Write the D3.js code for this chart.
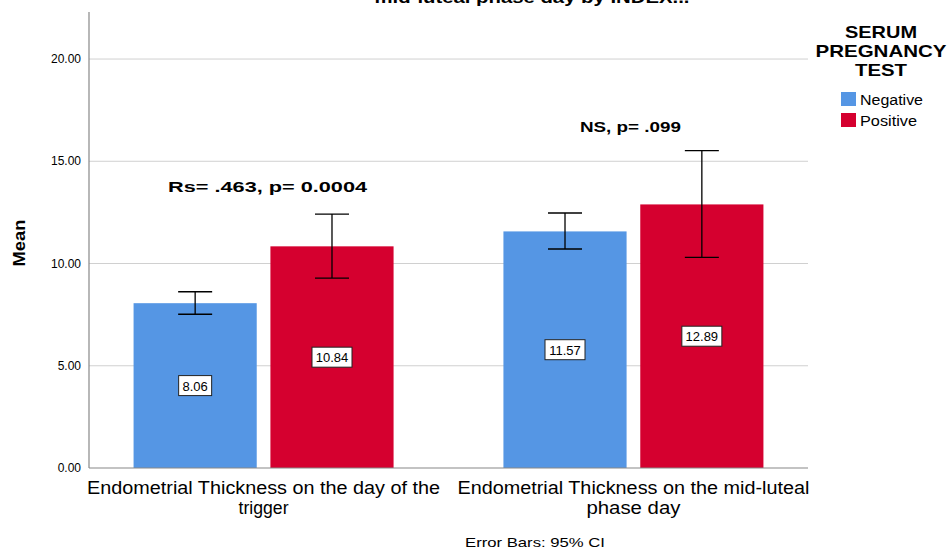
<!DOCTYPE html>
<html>
<head>
<meta charset="utf-8">
<script src="https://cdn.jsdelivr.net/npm/d3@7"></script>
<style>
    body { margin: 0; background: #fff; }
    text { font-family: "Liberation Sans", Arial, sans-serif; fill: #000; }
</style>
</head>
<body>
<script>
    var w = 949, h = 549;

    var categories = ["Endometrial Thickness on the day of the trigger", "Endometrial Thickness on the mid-luteal phase day"];
    var catLines = [["Endometrial Thickness on the day of the", "trigger"], ["Endometrial Thickness on the mid-luteal", "phase day"]];
    var groups = ["Negative", "Positive"];
    var negMean = [8.06, 11.57];
    var posMean = [10.84, 12.89];
    var negLow = [7.52, 10.71];
    var negHigh = [8.62, 12.47];
    var posLow = [9.29, 10.30];
    var posHigh = [12.42, 15.52];
    var notes = ["Rs= .463, p= 0.0004", "NS, p= .099"];
    var yTicks = [0, 5, 10, 15, 20];

    var colors = { Negative: "#5596e4", Positive: "#d5002f" };

    var plotL = 89, plotR = 808, plotT = 12, plotB = 468;

    var svg = d3.select("body").append("svg")
        .attr("width", w)
        .attr("height", h);

    var y = d3.scaleLinear().domain([0, 22.3]).range([plotB, plotT]);
    var x = d3.scalePoint().domain(categories).range([plotL, plotR]).padding(0.472);
    var xs = d3.scaleBand().domain(groups).range([-130, 130]).paddingInner(0.1);

    // stretch text to the width it has in the original
    function fit(sel, len) {
        sel.attr("textLength", len).attr("lengthAdjust", "spacingAndGlyphs");
    }

    // grid lines
    svg.append("g").selectAll("line")
        .data(yTicks.filter(function(d) { return d > 0; }))
        .enter().append("line")
        .attr("x1", plotL).attr("x2", plotR)
        .attr("y1", function(d) { return y(d); })
        .attr("y2", function(d) { return y(d); })
        .attr("stroke", "#d0d0d0")
        .attr("stroke-width", 1);

    // tick labels
    svg.append("g").selectAll("text")
        .data(yTicks)
        .enter().append("text")
        .attr("x", 81)
        .attr("y", function(d) { return y(d) + 4; })
        .attr("text-anchor", "end")
        .attr("font-size", "12px")
        .attr("fill", "#222")
        .text(function(d) { return d3.format(".2f")(d); });

    var rows = [];
    categories.forEach(function(c, i) {
        rows.push({ cat: c, grp: "Negative", v: negMean[i], lo: negLow[i], hi: negHigh[i] });
        rows.push({ cat: c, grp: "Positive", v: posMean[i], lo: posLow[i], hi: posHigh[i] });
    });

    function bx(d) { return x(d.cat) + xs(d.grp); }

    svg.append("g").selectAll("rect")
        .data(rows)
        .enter().append("rect")
        .attr("x", bx)
        .attr("y", function(d) { return y(d.v); })
        .attr("width", xs.bandwidth())
        .attr("height", function(d) { return y(0) - y(d.v); })
        .attr("fill", function(d) { return colors[d.grp]; });

    // error bars
    var eb = svg.append("g").attr("stroke", "#000").attr("stroke-width", 1.3);
    rows.forEach(function(d) {
        var cx = bx(d) + xs.bandwidth() / 2;
        eb.append("line").attr("x1", cx).attr("x2", cx).attr("y1", y(d.lo)).attr("y2", y(d.hi));
        eb.append("line").attr("x1", cx - 17).attr("x2", cx + 17).attr("y1", y(d.lo)).attr("y2", y(d.lo));
        eb.append("line").attr("x1", cx - 17).attr("x2", cx + 17).attr("y1", y(d.hi)).attr("y2", y(d.hi));
    });

    // value labels
    rows.forEach(function(d) {
        var cx = bx(d) + xs.bandwidth() / 2;
        var cy = (y(d.v) + y(0)) / 2;
        var txt = d3.format(".2f")(d.v);
        var bw = txt.length * 7 + 5;
        svg.append("rect")
            .attr("x", cx - bw / 2).attr("y", cy - 10)
            .attr("width", bw).attr("height", 20)
            .attr("fill", "#fff").attr("stroke", "#222").attr("stroke-width", 1);
        svg.append("text")
            .attr("x", cx).attr("y", cy + 5)
            .attr("text-anchor", "middle")
            .attr("font-size", "13px")
            .text(txt);
    });

    // axes lines
    svg.append("line").attr("x1", plotL).attr("x2", plotL).attr("y1", plotT).attr("y2", plotB)
        .attr("stroke", "#888").attr("stroke-width", 1.2);
    svg.append("line").attr("x1", plotL).attr("x2", plotR).attr("y1", plotB).attr("y2", plotB)
        .attr("stroke", "#888").attr("stroke-width", 1.2);

    // annotations
    var noteW = [199, 101];
    svg.append("g").selectAll("text")
        .data(notes)
        .enter().append("text")
        .attr("x", function(d, i) { return x(categories[i]) + (i === 0 ? 4 : -3); })
        .attr("y", function(d, i) { return i === 0 ? 192 : 132; })
        .attr("text-anchor", "middle")
        .attr("font-size", "15px")
        .attr("font-weight", "bold")
        .text(function(d) { return d; })
        .each(function(d, i) { fit(d3.select(this), noteW[i]); });

    // category labels
    var catW = [[353, 50], [352, 94]];
    catLines.forEach(function(lines, i) {
        lines.forEach(function(l, j) {
            svg.append("text")
                .attr("x", x(categories[i]))
                .attr("y", 494 + j * 20)
                .attr("text-anchor", "middle")
                .attr("font-size", "17.5px")
                .attr("fill", "#222")
                .text(l)
                .call(fit, catW[i][j]);
        });
    });

    // y label
    svg.append("text")
        .attr("transform", "translate(25,243) rotate(-90)")
        .attr("text-anchor", "middle")
        .attr("font-size", "17px")
        .attr("font-weight", "bold")
        .text("Mean")
        .call(fit, 47);

    // title (cut off at top)
    svg.append("text")
        .attr("x", 532).attr("y", 3)
        .attr("text-anchor", "middle")
        .attr("font-size", "16px")
        .attr("font-weight", "bold")
        .text("mid-luteal phase day by INDEX...")
        .call(fit, 315);

    svg.append("text")
        .attr("x", 535).attr("y", 547)
        .attr("text-anchor", "middle")
        .attr("font-size", "13px")
        .attr("fill", "#222")
        .text("Error Bars: 95% CI")
        .call(fit, 140);

    // legend
    var legW = [72, 131, 52];
    ["SERUM", "PREGNANCY", "TEST"].forEach(function(t, i) {
        svg.append("text")
            .attr("x", 881).attr("y", 38 + i * 19)
            .attr("text-anchor", "middle")
            .attr("font-size", "17px")
            .attr("font-weight", "bold")
            .text(t)
            .call(fit, legW[i]);
    });
    var itemW = [63, 57];
    groups.forEach(function(g, i) {
        svg.append("rect")
            .attr("x", 841).attr("y", 92 + i * 21)
            .attr("width", 15).attr("height", 14)
            .attr("fill", colors[g]);
        svg.append("text")
            .attr("x", 860).attr("y", 105 + i * 21)
            .attr("font-size", "14px")
            .attr("fill", "#222")
            .text(g)
            .call(fit, itemW[i]);
    });
</script>
</body>
</html>
